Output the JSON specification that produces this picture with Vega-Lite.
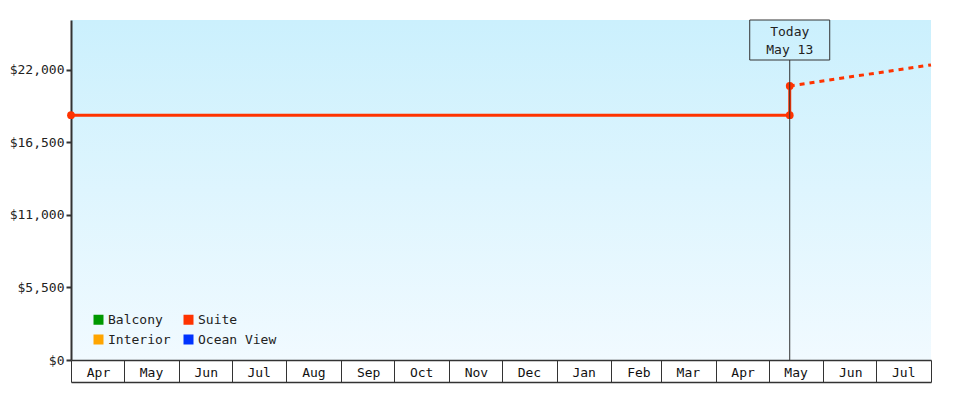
{
  "$schema": "https://vega.github.io/schema/vega-lite/v6.json",
  "width": 860,
  "height": 340,
  "autosize": "none",
  "padding": {"left": 71, "top": 20, "right": 49, "bottom": 40},
  "background": "white",
  "config": {
    "font": "DejaVu Sans Mono",
    "view": {
      "stroke": null,
      "fill": {"gradient": "linear", "x1": 0, "y1": 0, "x2": 0, "y2": 1, "stops": [{"offset": 0, "color": "#cbf0fd"}, {"offset": 1, "color": "#f1faff"}]}
    }
  },
  "datasets": {
    "suite": [
      {"date": "2024-04-01", "price": 18540, "series": "Suite", "kind": "actual", "seq": 1},
      {"date": "2025-05-13", "price": 18540, "series": "Suite", "kind": "actual", "seq": 2},
      {"date": "2025-05-13", "price": 20760, "series": "Suite", "kind": "actual", "seq": 3},
      {"date": "2025-05-13", "price": 20760, "series": "Suite", "kind": "forecast", "seq": 4},
      {"date": "2025-08-01", "price": 22350, "series": "Suite", "kind": "forecast", "seq": 5}
    ],
    "today": [
      {"date": "2025-05-13", "label": "Today", "sub": "May 13"}
    ]
  },
  "resolve": {"axis": {"x": "independent"}},
  "layer": [
    {
      "data": {"name": "suite"},
      "transform": [{"filter": "datum.kind == 'actual'"}],
      "mark": {"type": "line", "strokeWidth": 3, "point": {"size": 60, "filled": true, "opacity": 1}},
      "encoding": {
        "x": {
          "field": "date", "type": "temporal",
          "scale": {"type": "utc", "domain": [{"year": 2024, "month": 4, "date": 1, "utc": true}, {"year": 2025, "month": 8, "date": 1, "utc": true}]},
          "axis": {
            "title": null,
            "orient": "bottom",
            "tickCount": {"interval": "month", "step": 1},
            "labelExpr": "(utcyear(datum.value) == 2025 && utcmonth(datum.value) == 7) ? '' : utcFormat(datum.value, '%b')",
            "grid": false,
            "tickSize": 22,
            "tickColor": "#333333",
            "tickWidth": 1,
            "domainColor": "#333333",
            "domainWidth": 1.5,
            "labelAlign": "center",
            "labelBaseline": "middle",
            "labelOffset": 27,
            "labelPadding": -10,
            "labelFlush": false,
            "labelOverlap": false,
            "labelFontSize": 13,
            "labelColor": "#111111",
            "labelFont": "DejaVu Sans Mono"
          }
        },
        "y": {
          "field": "price", "type": "quantitative",
          "scale": {"domain": [0, 25750], "nice": false, "zero": true},
          "axis": {
            "title": null,
            "values": [0, 5500, 11000, 16500, 22000],
            "format": "$,.0f",
            "grid": false,
            "tickSize": 5,
            "tickWidth": 2,
            "tickColor": "#333333",
            "domainColor": "#333333",
            "domainWidth": 2,
            "labelFontSize": 13,
            "labelColor": "#222222",
            "labelPadding": 2,
            "labelFont": "DejaVu Sans Mono"
          }
        },
        "color": {
          "field": "series", "type": "nominal",
          "scale": {"domain": ["Balcony", "Suite", "Interior", "Ocean View"], "range": ["#009900", "#ff3300", "#ffa500", "#0033ff"]},
          "legend": {
            "title": null,
            "orient": "none",
            "legendX": 21,
            "legendY": 293,
            "columns": 2,
            "direction": "horizontal",
            "symbolType": "square",
            "symbolSize": 100,
            "symbolStrokeWidth": 0,
            "symbolOpacity": 1,
            "labelFontSize": 13,
            "labelColor": "#222222",
            "labelFont": "DejaVu Sans Mono",
            "columnPadding": 11,
            "rowPadding": 6,
            "labelOffset": 3
          }
        },
        "order": {"field": "seq"}
      }
    },
    {
      "data": {"name": "suite"},
      "transform": [{"filter": "datum.kind == 'forecast'"}],
      "mark": {"type": "line", "strokeWidth": 3, "strokeDash": [5, 5]},
      "encoding": {
        "x": {"field": "date", "type": "temporal", "axis": null},
        "y": {"field": "price", "type": "quantitative"},
        "color": {"field": "series", "type": "nominal"},
        "order": {"field": "seq"}
      }
    },
    {
      "data": {"name": "today"},
      "mark": {"type": "rule", "color": "#333333", "strokeWidth": 1},
      "encoding": {
        "x": {
          "field": "date", "type": "temporal",
          "axis": {"title": null, "orient": "bottom", "offset": 22, "labels": false, "ticks": false, "grid": false, "domain": true, "domainColor": "#333333", "domainWidth": 1.5}
        },
        "y": {"datum": 0},
        "y2": {"datum": 22720}
      }
    },
    {
      "data": {"name": "today"},
      "mark": {"type": "point", "shape": "M-1,-0.5H1V0.5H-1Z", "size": 6400, "filled": false, "stroke": "#333333", "strokeWidth": 1, "opacity": 1},
      "encoding": {
        "x": {"field": "date", "type": "temporal", "axis": null},
        "y": {"datum": 24235}
      }
    },
    {
      "data": {"name": "today"},
      "mark": {"type": "text", "fontSize": 13, "color": "#222222", "align": "center", "baseline": "middle", "lineHeight": 18, "dy": -8, "font": "DejaVu Sans Mono"},
      "encoding": {
        "x": {"field": "date", "type": "temporal", "axis": null},
        "y": {"datum": 24235},
        "text": {"value": ["Today", "May 13"]}
      }
    }
  ]
}
